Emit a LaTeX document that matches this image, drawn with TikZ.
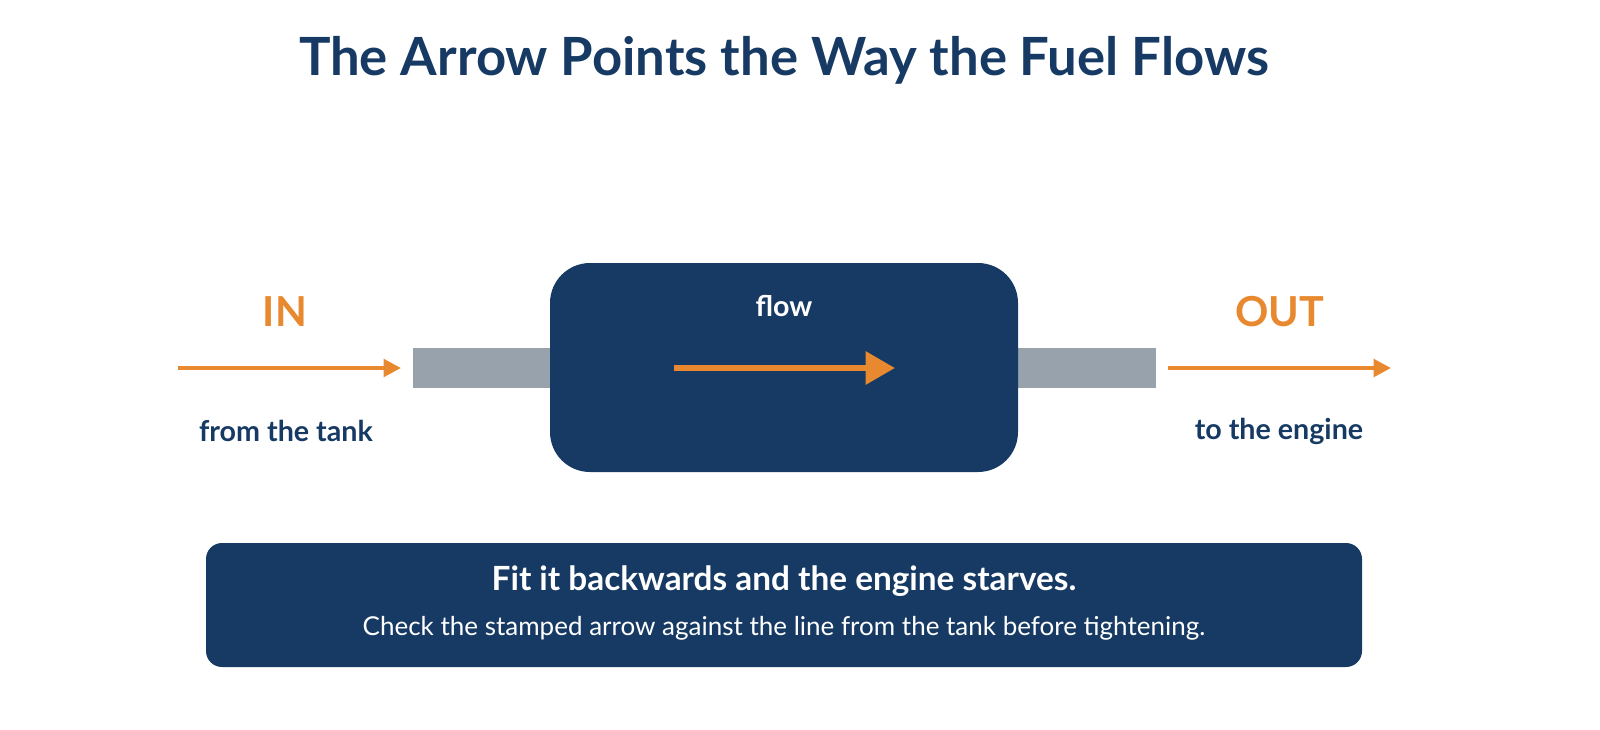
\documentclass[tikz,border=0pt]{standalone}
\usepackage{fontspec}
\setmainfont{Lato}
\usetikzlibrary{arrows.meta}
\definecolor{navy}{HTML}{163A63}
\definecolor{fuel}{HTML}{E8892F}
\definecolor{pipe}{HTML}{97A2AD}
\begin{document}
\begin{tikzpicture}[x=0.75pt,y=-0.75pt,
  lbl/.style={font=\fontsize{21.5}{26}\selectfont\bfseries,text=navy},
  big/.style={font=\fontsize{31}{36}\selectfont\bfseries,text=fuel},
  flowarrow/.style={draw=fuel,line width=4.5pt,-{Triangle[length=22pt,width=24pt]}},
  sidearrow/.style={draw=fuel,line width=3pt,-{Triangle[length=13pt,width=13pt]}}]
\path[use as bounding box] (0,0) rectangle (1600,729);
\node[font=\fontsize{39.5}{46}\selectfont\bfseries,text=navy] (title) at (784,60) {The Arrow Points the Way the Fuel Flows};
\fill[pipe] (413,348) rectangle (552,388);
\fill[pipe] (1016,348) rectangle (1156,388);
\node[fill=navy,rounded corners=30pt,minimum width=351pt,minimum height=156.75pt,inner sep=0] (valve) at (784,367.5) {};
\node[font=\fontsize{21.5}{26}\selectfont\bfseries,text=white] (flow) at (784,306) {flow};
\coordinate (fa) at (674,368); \coordinate (fb) at (895,368);
\draw[flowarrow] (fa) -- (fb);
\node[big] (in) at (285,312) {IN};
\node[big] (out) at (1280,312) {OUT};
\coordinate (ia) at (178,368); \coordinate (ib) at (401,368);
\coordinate (oa) at (1168,368); \coordinate (ob) at (1391,368);
\draw[sidearrow] (ia) -- (ib);
\draw[sidearrow] (oa) -- (ob);
\node[lbl] (tank) at (286,431) {from the tank};
\node[lbl] (eng) at (1279,431) {to the engine};
\node[fill=navy,rounded corners=12pt,minimum width=867pt,minimum height=93pt,inner sep=0] (note) at (784,605) {};
\node[font=\fontsize{25}{30}\selectfont\bfseries,text=white] (n1) at (784,581) {Fit it backwards and the engine starves.};
\node[font=\fontsize{19.5}{23}\selectfont,text=white] (n2) at (784,628) {Check the stamped arrow against the line from the tank before tightening.};
\end{tikzpicture}
\end{document}
